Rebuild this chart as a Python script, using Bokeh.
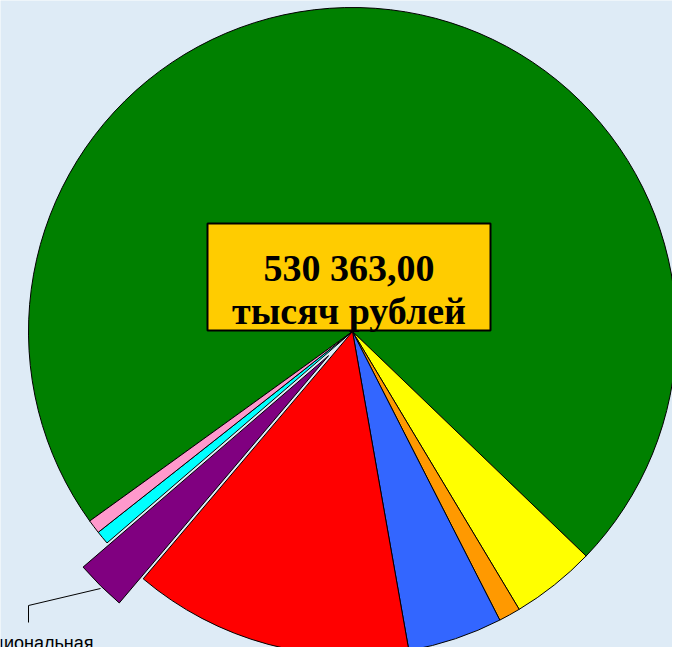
import math
from bokeh.plotting import figure
from bokeh.models import ColumnDataSource, Range1d
from bokeh.core.properties import value
from bokeh.embed import file_html
from bokeh.resources import INLINE

# ---- data (thousand rubles) ----
categories = [
    "Образование",
    "Культура",
    "Здравоохранение",
    "Социальная политика",
    "Общегосударственные вопросы",
    "Национальная экономика",
    "Жилищно-коммунальное хозяйство",
    "Физическая культура и спорт",
]
values = [382537, 22364, 5775, 25075, 74045, 13289, 3595, 3683]
total_label = "530 363,00"
unit_label = "тысяч рублей"
exploded_category = "Национальная экономика"
label_text = "Национальная"
colors = ["#008000", "#FFFF00", "#FF9900", "#3366FF", "#FF0000", "#800080", "#00FFFF", "#FF99CC"]

BG = "#DEEBF6"
W, H = 672, 647

p = figure(width=W, height=H, x_range=Range1d(0, 672), y_range=Range1d(8, 655),
           output_backend="svg", toolbar_location=None, min_border=0,
           x_axis_location=None, y_axis_location=None)
p.grid.visible = False
p.outline_line_color = None
p.background_fill_color = BG
p.border_fill_color = BG

cx, cy, r = 352, 324, 324
explode = 34
base = math.radians(215.8)
total = sum(values)

xs, ys, starts, ends = [], [], [], []
cum = 0.0
for cat, v in zip(categories, values):
    span = v / total * 2 * math.pi
    s = base - cum - span
    e = base - cum
    cum += span
    x0, y0 = cx, cy
    if cat == exploded_category:
        mid = (s + e) / 2
        x0 += explode * math.cos(mid)
        y0 += explode * math.sin(mid)
    xs.append(x0); ys.append(y0); starts.append(s); ends.append(e)

src = ColumnDataSource(dict(x=xs, y=ys, start=starts, end=ends, color=colors, cat=categories))
p.wedge(x="x", y="y", radius=r, start_angle="start", end_angle="end",
        fill_color="color", line_color="black", line_width=1, source=src)

# leader line and label for exploded slice
p.line(x=[100, 28, 28], y=[67, 50, 33], line_color="black", line_width=1)
p.text(x=[93], y=[13], text=[label_text], text_align="right", text_baseline="alphabetic",
       text_font=value("Liberation Sans"), text_font_size="18px", text_color="black")

# central label box
p.quad(left=[207], right=[490], top=[432], bottom=[325], fill_color="#FFCC00",
       line_color="black", line_width=2)
p.text(x=[348.5, 348.5], y=[388, 345], text=[total_label, unit_label],
       text_align="center", text_baseline="alphabetic",
       text_font=value("Liberation Serif"), text_font_style="bold",
       text_font_size="38px", text_color="black")

open("out.html", "w").write(file_html(p, INLINE))
